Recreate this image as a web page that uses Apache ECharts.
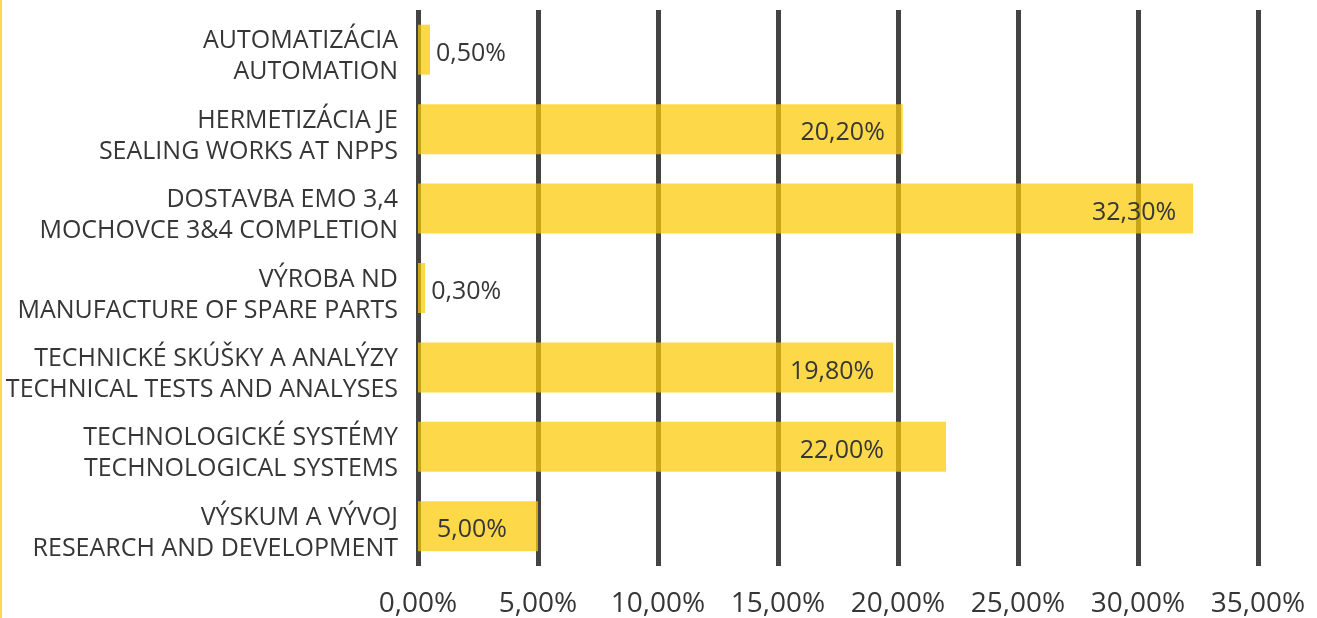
<!DOCTYPE html>
<html>
<head>
<meta charset="utf-8">
<script src="https://cdn.jsdelivr.net/npm/echarts@6/dist/echarts.min.js"></script>
<style>
  html, body { margin: 0; padding: 0; background: #fff; }
  #chart { width: 1317px; height: 618px; }
</style>
</head>
<body>
<div id="chart"></div>
<script>
// categories, top to bottom as in the picture
const categories = [
  'AUTOMATIZÁCIA\nAUTOMATION',
  'HERMETIZÁCIA JE\nSEALING WORKS AT NPPS',
  'DOSTAVBA EMO 3,4\nMOCHOVCE 3&4 COMPLETION',
  'VÝROBA ND\nMANUFACTURE OF SPARE PARTS',
  'TECHNICKÉ SKÚŠKY A ANALÝZY\nTECHNICAL TESTS AND ANALYSES',
  'TECHNOLOGICKÉ SYSTÉMY\nTECHNOLOGICAL SYSTEMS',
  'VÝSKUM A VÝVOJ\nRESEARCH AND DEVELOPMENT'
];
const values = [0.5, 20.2, 32.3, 0.3, 19.8, 22.0, 5.0];
const xTicks = [0, 5, 10, 15, 20, 25, 30, 35];
// how far each value label sits in from the bar end (negative = outside)
const labelInset = [-6, 18, 17, -6, 19, 62, 31];

const textColor = '#363636';
const font = '"Open Sans", "Noto Sans", sans-serif';

function fmt(v) {
  return v.toFixed(2).replace('.', ',') + '%';
}

const chart = echarts.init(document.getElementById('chart'));

const barData = values.map((v, i) => {
  const d = labelInset[i];
  return {
    value: v,
    label: d < 0
      ? { position: 'right', distance: -d }
      : { position: 'insideRight', distance: d }
  };
});

chart.setOption({
  animation: false,
  grid: { left: 418, right: 59, top: 10, bottom: 50 },
  graphic: [{
    type: 'rect',
    shape: { x: 0, y: 0, width: 2, height: 618 },
    style: { fill: '#fcd94a' }
  }],
  xAxis: {
    type: 'value',
    min: xTicks[0],
    max: xTicks[xTicks.length - 1],
    interval: 5,
    axisLine: { show: false },
    axisTick: { show: false },
    splitLine: { lineStyle: { color: '#434343', width: 5 } },
    axisLabel: {
      formatter: v => fmt(v),
      color: textColor,
      fontFamily: font,
      fontSize: 28,
      margin: 24
    }
  },
  yAxis: {
    type: 'category',
    inverse: true,
    data: categories,
    axisLine: { show: false },
    axisTick: { show: false },
    axisLabel: {
      interval: 0,
      color: textColor,
      fontFamily: font,
      fontSize: 25,
      lineHeight: 31,
      margin: 20,
      align: 'right',
      // small blank first line nudges the two text lines down a little
      formatter: v => '{s| }\n' + v.split('\n').map(t => '{t|' + t + '}').join('\n'),
      rich: {
        s: { fontSize: 4, lineHeight: 14 },
        t: { fontSize: 25, lineHeight: 31, fontFamily: font, color: textColor, align: 'right' }
      }
    }
  },
  series: [{
    type: 'bar',
    data: barData,
    barWidth: 50,
    itemStyle: { color: 'rgba(252, 203, 7, 0.73)' },
    label: {
      show: true,
      formatter: p => fmt(p.value),
      color: textColor,
      fontFamily: font,
      fontSize: 25,
      offset: [0, 4]
    }
  }]
});
</script>
</body>
</html>
